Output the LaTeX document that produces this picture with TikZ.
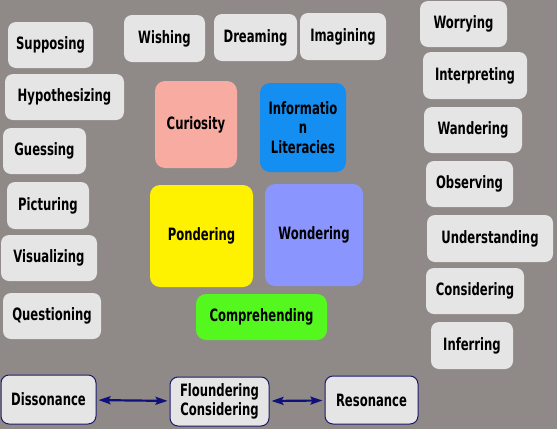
\documentclass[tikz,border=0pt]{standalone}
\usepackage{fontspec}
\setmainfont{DejaVu Sans Condensed}[FakeStretch=0.76]
\usetikzlibrary{arrows.meta}
\definecolor{bg}{HTML}{8F8987}
\definecolor{boxfill}{HTML}{E6E5E6}
\definecolor{salmon}{HTML}{F8ACA1}
\definecolor{infoblue}{HTML}{148EF0}
\definecolor{periw}{HTML}{8A95FE}
\definecolor{lgreen}{HTML}{55F81E}
\definecolor{navy}{HTML}{1C1A70}
\definecolor{arrnavy}{HTML}{10107A}
\tikzset{
  box/.style={rounded corners=8pt, fill=boxfill, inner sep=0pt, align=center,
    font=\bfseries\fontsize{17}{19.5}\selectfont, text=black},
  framed/.style={draw=navy, line width=1pt},
  arr/.style={{Stealth[length=12pt,width=8pt,inset=2pt]}-{Stealth[length=12pt,width=8pt,inset=2pt]}, draw=arrnavy, line width=2.2pt, shorten <=2pt, shorten >=2pt}
}
\newcommand\bx[7][]{%
  \node[box,#1,minimum width={#5-#3},minimum height={#6-#4}] (#2) at ({(#3+#5)/2},{(#4+#6)/2}) {#7};}
\begin{document}
\begin{tikzpicture}[x=1pt,y=-1pt]
\fill[bg] (0,0) rectangle (557,429);
\useasboundingbox (0,0) rectangle (557,429);
% left column
\bx{sup}{8}{22}{93}{68}{Supposing}
\bx{hyp}{5}{74}{124}{120}{Hypothesizing}
\bx{gue}{3}{128}{86}{174}{Guessing}
\bx{pic}{7}{182}{89}{229}{Picturing}
\bx{vis}{1}{235}{97}{281}{Visualizing}
\bx{que}{3}{293}{101}{339}{Questioning}
% top row
\bx{wis}{124}{15}{205}{62}{Wishing}
\bx{dre}{214}{14}{297}{61}{Dreaming}
\bx{ima}{300}{13}{386}{60}{Imagining}
% centre
\bx[fill=salmon,rounded corners=10pt]{cur}{155}{81}{237}{168}{Curiosity}
\bx[fill=infoblue,rounded corners=10pt]{inf}{260}{83}{346}{172}{Informatio\\n\\Literacies}
\bx[fill=yellow,rounded corners=10pt]{pon}{150}{185}{253}{287}{Pondering}
\bx[fill=periw,rounded corners=10pt]{won}{265}{184}{363}{286}{Wondering}
\bx[fill=lgreen,rounded corners=10pt]{com}{196}{294}{327}{340}{Comprehending}
% right column
\bx{wor}{420}{1}{507}{47}{Worrying}
\bx{int}{423}{52}{527}{99}{Interpreting}
\bx{wan}{424}{107}{522}{153}{Wandering}
\bx{obs}{426}{161}{513}{207}{Observing}
\bx{und}{427}{215}{553}{262}{Understanding}
\bx{con}{426}{268}{524}{314}{Considering}
\bx{inr}{431}{322}{513}{369}{Inferring}
% bottom row
\bx[framed]{dis}{1}{375}{96}{424}{Dissonance}
\bx[framed]{flo}{170}{377}{269}{426}{Floundering\\Considering}
\bx[framed]{res}{325}{376}{418}{424}{Resonance}
\draw[arr] (dis) -- (flo);
\draw[arr] (flo) -- (res);
\end{tikzpicture}
\end{document}
